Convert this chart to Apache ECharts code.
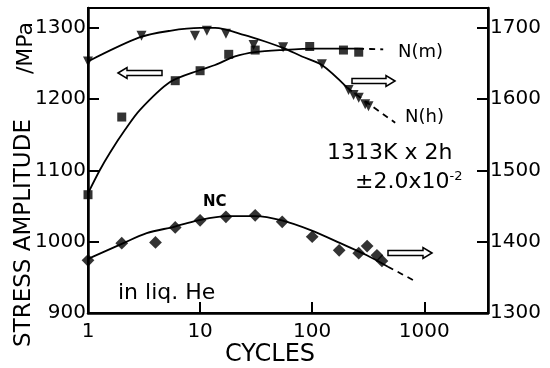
<!DOCTYPE html>
<html>
<head>
<meta charset="utf-8">
<script src="https://cdn.jsdelivr.net/npm/echarts@6/dist/echarts.min.js"></script>
<style>
  html, body { margin: 0; padding: 0; background: #fff; }
  #chart { width: 550px; height: 368px; }
</style>
</head>
<body>
<div id="chart"></div>
<script>
// N(m) squares, left axis (MPa)
var nmCycles = [1, 2, 6, 10, 18, 31, 95, 190, 260]
var nmStress = [1066, 1175, 1226, 1240, 1263, 1269, 1274, 1269, 1266]
// N(m) hand-drawn curve
var nmFitCycles = [1, 1.28, 1.57, 2.14, 2.91, 5.39, 10, 13.6, 20.5, 31, 54, 106, 257]
var nmFitStress = [1068, 1101, 1125, 1157, 1185, 1224, 1241, 1248, 1260, 1266, 1269, 1271, 1271]
var nmDashCycles = [257, 430]
var nmDashStress = [1271, 1270]

// N(h) triangles, right axis (MPa)
var nhCycles = [1, 3, 9, 11.5, 17, 30, 55, 122, 211, 234, 260, 297, 318]
var nhStress = [1653, 1689, 1689, 1696, 1692, 1676, 1673, 1649, 1613, 1606, 1602, 1593, 1590]
var nhFitCycles = [1, 2.91, 5.39, 10, 13.6, 25, 38, 55, 81, 122, 206]
var nhFitStress = [1653, 1687, 1696, 1700, 1700, 1690, 1681, 1672, 1660, 1648, 1616]
var nhDashCycles = [206, 330, 550]
var nhDashStress = [1616, 1592, 1567]

// NC diamonds, right axis (MPa)
var ncCycles = [1, 2, 4, 6, 10, 17, 31, 54, 100, 174, 260, 309, 378, 419]
var ncStress = [1374, 1398, 1399, 1420, 1430, 1435, 1437, 1428, 1407, 1388, 1384, 1394, 1381, 1373]
var ncFitCycles = [1, 2, 3.34, 5.85, 9.6, 17.3, 31, 53.6, 98, 178, 307, 474]
var ncFitStress = [1376, 1397, 1412, 1421, 1430, 1436, 1436, 1430, 1416, 1398, 1381, 1365]
var ncDashCycles = [474, 800]
var ncDashStress = [1365, 1346]

var leftTicks = [900, 1000, 1100, 1200, 1300]
var rightTicks = [1300, 1400, 1500, 1600, 1700]

var FONT = 'DejaVu Sans'

function pairs(xs, ys) {
  return xs.map(function (x, i) { return [x, ys[i]] })
}

function curve(xs, ys, axis, dashed) {
  return {
    type: 'line',
    yAxisIndex: axis,
    data: pairs(xs, ys),
    smooth: 0.3,
    showSymbol: false,
    silent: true,
    z: 2,
    lineStyle: { color: '#000', width: 1.8, type: dashed ? [6, 5] : 'solid' },
  }
}

function marks(xs, ys, axis, symbol, size, rotate) {
  return {
    type: 'scatter',
    yAxisIndex: axis,
    data: pairs(xs, ys),
    symbol: symbol,
    symbolSize: size,
    symbolRotate: rotate,
    z: 3,
    itemStyle: { color: '#000' },
  }
}

// hollow block arrow
function arrow(x0, x1, cy, dir) {
  var hl = 9, hh = 5.5, sh = 2.5
  var pts
  if (dir < 0) {
    pts = [[x0, cy], [x0 + hl, cy - hh], [x0 + hl, cy - sh], [x1, cy - sh],
      [x1, cy + sh], [x0 + hl, cy + sh], [x0 + hl, cy + hh]]
  } else {
    pts = [[x1, cy], [x1 - hl, cy - hh], [x1 - hl, cy - sh], [x0, cy - sh],
      [x0, cy + sh], [x1 - hl, cy + sh], [x1 - hl, cy + hh]]
  }
  return {
    type: 'polygon',
    shape: { points: pts },
    style: { fill: '#fff', stroke: '#000', lineWidth: 1.5 },
    z: 10,
  }
}

function txt(x, y, s, size, extra) {
  var o = {
    type: 'text',
    x: x,
    y: y,
    z: 10,
    style: {
      text: s,
      fill: '#000',
      font: (extra && extra.weight ? extra.weight + ' ' : '') + size + 'px "' + FONT + '"',
      textAlign: (extra && extra.align) || 'left',
      textVerticalAlign: 'middle',
    },
  }
  if (extra && extra.rotation) o.rotation = extra.rotation
  return o
}

function plain(v) {
  return String(Math.round(v))
}

var chart = echarts.init(document.getElementById('chart'))

var yAxisBase = {
  type: 'value',
  interval: 100,
  axisLine: { show: true, lineStyle: { color: '#000', width: 2.5 } },
  axisTick: { show: true, inside: true, length: 11, lineStyle: { color: '#000', width: 2 } },
  splitLine: { show: false },
}

var option = {
  backgroundColor: '#fff',
  animation: false,
  grid: {
    left: 88, right: 62, top: 8, bottom: 55,
    show: true, borderColor: '#000', borderWidth: 2,
  },
  xAxis: {
    type: 'log',
    logBase: 10,
    min: 1,
    max: 3700,
    axisLine: { show: true, lineStyle: { color: '#000', width: 2.5 } },
    axisTick: { show: true, inside: true, length: 11, lineStyle: { color: '#000', width: 2 } },
    minorTick: { show: false },
    splitLine: { show: false },
    axisLabel: {
      color: '#000', fontFamily: FONT, fontSize: 20, margin: 9,
      showMaxLabel: false,
      formatter: plain,
    },
  },
  yAxis: [
    Object.assign({}, yAxisBase, {
      position: 'left',
      min: leftTicks[0],
      max: 1328,
      axisLabel: { color: '#000', fontFamily: FONT, fontSize: 20, margin: 2, showMaxLabel: false, formatter: plain },
    }),
    Object.assign({}, yAxisBase, {
      position: 'right',
      min: rightTicks[0],
      max: 1728,
      axisLabel: { color: '#000', fontFamily: FONT, fontSize: 20, margin: 2, showMaxLabel: false, formatter: plain },
    }),
  ],
  series: [
    curve(nmFitCycles, nmFitStress, 0, false),
    curve(nmDashCycles, nmDashStress, 0, true),
    marks(nmCycles, nmStress, 0, 'rect', 9, 0),

    curve(nhFitCycles, nhFitStress, 1, false),
    curve(nhDashCycles, nhDashStress, 1, true),
    marks(nhCycles, nhStress, 1, 'triangle', 10, 180),

    curve(ncFitCycles, ncFitStress, 1, false),
    curve(ncDashCycles, ncDashStress, 1, true),
    marks(ncCycles, ncStress, 1, 'rect', 9, 45),
  ],
  graphic: [
    arrow(118, 162, 73, -1),
    arrow(352, 395, 81, 1),
    arrow(388, 432, 253, 1),
    txt(398, 52, 'N(m)', 18),
    txt(405, 117, 'N(h)', 18),
    txt(327, 153, '1313K x 2h', 22),
    {
      type: 'text',
      x: 355,
      y: 182,
      z: 10,
      style: {
        text: '{a|±2.0x10}{s|-2}',
        textVerticalAlign: 'middle',
        rich: {
          a: { fontFamily: FONT, fontSize: 22, fill: '#000', color: '#000' },
          s: { fontFamily: FONT, fontSize: 13, fill: '#000', color: '#000', verticalAlign: 'top', padding: [0, 0, 10, 0] },
        },
      },
    },
    txt(203, 202, 'NC', 15, { weight: 'bold' }),
    txt(118, 293, 'in liq. He', 22),
    txt(270, 355, 'CYCLES', 24, { align: 'center' }),
    txt(24, 233, 'STRESS AMPLITUDE', 23, { align: 'center', rotation: Math.PI / 2 }),
    txt(26, 48, '/MPa', 22, { align: 'center', rotation: Math.PI / 2 }),
  ],
}

chart.setOption(option)
</script>
</body>
</html>
